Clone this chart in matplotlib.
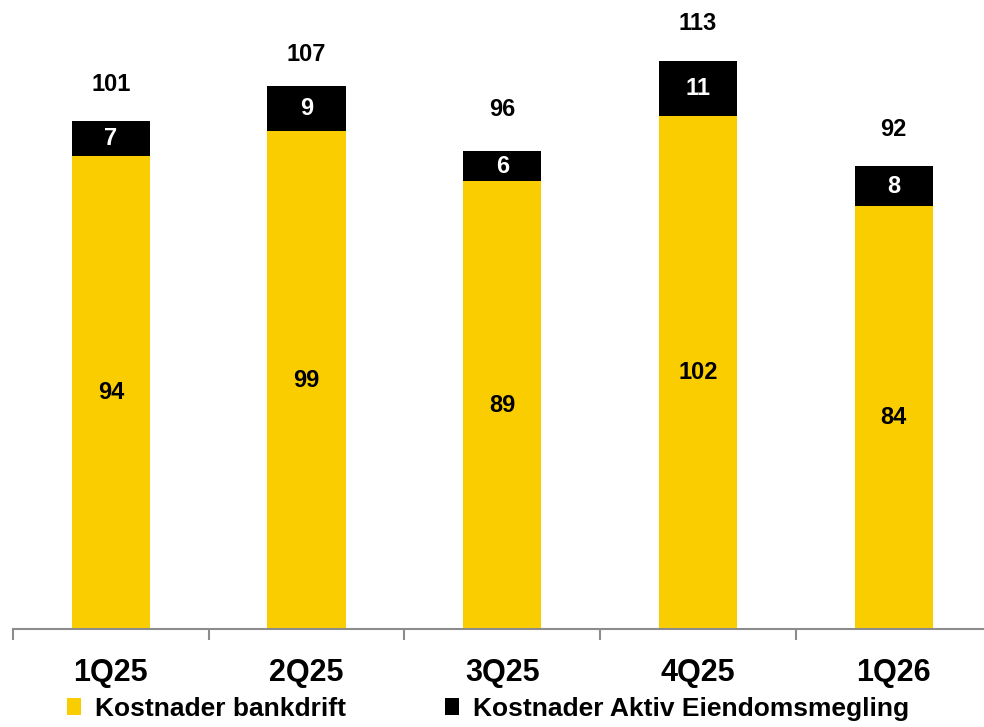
import matplotlib.pyplot as plt
from matplotlib.patches import Patch

quarters = ["1Q25", "2Q25", "3Q25", "4Q25", "1Q26"]
bankdrift = [94, 99, 89, 102, 84]
eiendomsmegling = [7, 9, 6, 11, 8]
totals = [101, 107, 96, 113, 92]

YELLOW = "#FACD00"
BLACK = "#000000"
FONT = ["Liberation Sans", "DejaVu Sans"]

plt.rcParams["font.family"] = FONT
plt.rcParams["font.weight"] = "bold"

fig = plt.figure(figsize=(9.84, 7.27), dpi=100)
ax = fig.add_axes([13 / 984, 98 / 727, 978.5 / 984, 603.6 / 727])

x = list(range(len(quarters)))
ax.bar(x, bankdrift, width=0.4, color=YELLOW, zorder=2)
ax.bar(x, eiendomsmegling, width=0.4, bottom=bankdrift, color=BLACK, zorder=2)

for i in x:
    ax.text(i, bankdrift[i] / 2, str(bankdrift[i]), ha="center", va="center",
            fontsize=17, fontweight="bold", color="black")
    ax.text(i, bankdrift[i] + eiendomsmegling[i] / 2, str(eiendomsmegling[i]),
            ha="center", va="center", fontsize=17, fontweight="bold", color="white")
    ax.text(i, totals[i] + 7.3, str(totals[i]), ha="center", va="center",
            fontsize=17, fontweight="bold", color="black", clip_on=False)

ax.set_xlim(-0.5, 4.5)
ax.set_ylim(0, 120)
ax.set_yticks([])
for side in ["left", "right", "top"]:
    ax.spines[side].set_visible(False)
ax.spines["bottom"].set_color("#8C8C8C")
ax.spines["bottom"].set_linewidth(1.5)

ax.set_xticks(x)
ax.set_xticklabels(quarters, fontsize=22, fontweight="bold")
ax.tick_params(axis="x", which="major", length=0, pad=21)
ax.set_xticks([i - 0.5 for i in range(len(quarters) + 1)], minor=True)
ax.tick_params(axis="x", which="minor", length=8, width=1.5, color="#8C8C8C", direction="out")

handles = [Patch(facecolor=YELLOW, label="Kostnader bankdrift"),
           Patch(facecolor=BLACK, label="Kostnader Aktiv Eiendomsmegling")]
fig.legend(handles=handles, loc="center left", bbox_to_anchor=(67 / 984, 1 - 709 / 727), ncol=2,
           frameon=False, borderpad=0, borderaxespad=0, handlelength=0.53, handleheight=0.6,
           handletextpad=0.53, columnspacing=3.77,
           prop={"family": FONT, "weight": "bold", "size": 19})

fig.savefig("out.png", dpi=100)
